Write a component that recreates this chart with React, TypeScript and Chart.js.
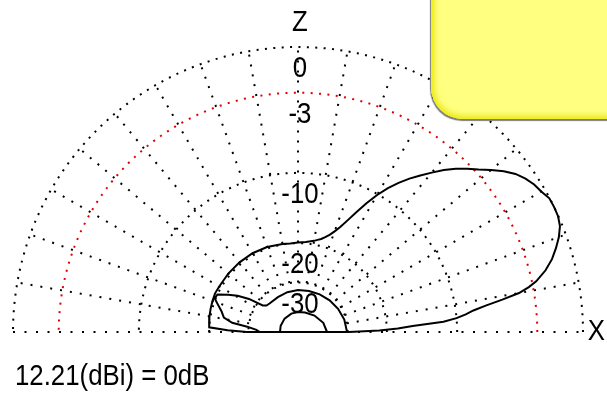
import { useEffect, useRef } from 'react';
import { Chart, registerables } from 'chart.js';

Chart.register(...registerables);

// Total-field elevation pattern: degrees above the +X horizon and gain relative to the peak (dB).
const ELEVATION_DEG = [
  0, 1, 2, 3, 4, 5, 6, 7, 8, 9, 10, 11, 12, 14, 16, 18, 20, 22, 24, 26, 28, 30,
  32, 34, 36, 38, 40, 42, 44, 46, 48, 50, 52, 54, 56, 58, 60, 62, 64, 66, 68,
  70, 72, 74, 76, 78, 80, 85, 90, 95, 100, 110, 120, 130, 140, 150, 155, 160,
  165, 170, 174, 177, 178.5, 180,
];
const GAIN_DB = [
  -29.5, -21.5, -18.0, -15.6, -11.5, -10.0, -9.0, -8.2, -7.0, -5.5, -4.1, -3.3,
  -2.7, -1.9, -1.3, -0.85, -0.45, -0.15, -0.02, 0, -0.02, -0.25, -0.4, -0.65,
  -1.0, -1.5, -2.1, -2.75, -3.3, -3.9, -4.6, -5.4, -6.2, -7.0, -7.9, -8.9,
  -10.1, -11.5, -13.0, -14.5, -15.8, -16.8, -17.6, -18.2, -18.7, -19.0, -19.3,
  -19.7, -19.9, -20.0, -19.9, -19.7, -19.6, -19.6, -19.6, -19.6, -19.5, -19.6,
  -19.7, -19.8, -19.9, -20.0, -24.0, -29.5,
];

// Weaker polarisation components drawn near the origin.
const TRACE_B_DEG = [
  0, 15, 30, 45, 60, 75, 90, 105, 120, 135, 140, 143, 146, 149, 152, 155, 158,
  161, 165, 169, 172, 174, 177, 180,
];
const TRACE_B_DB = [
  -30.2, -30.6, -31.2, -31.8, -32.3, -32.7, -32.9, -33.2, -33.6, -33.6, -33.2,
  -32.0, -27.0, -24.0, -22.0, -20.0, -19.8, -20.8, -22.0, -22.8, -25.0, -29.5,
  -33.0, -34.5,
];
const TRACE_C_DEG = [0, 20, 45, 70, 90, 110, 135, 160, 180];
const TRACE_C_DB = [-39.2, -40.5, -43.0, -45.0, -45.6, -46.0, -46.5, -47.0, -47.4];

const RING_DB = [0, -3, -10, -20, -30];
const RING_LABELS = ['0', '-3', '-10', '-20', '-30'];
const RING_COLORS = ['#000000', '#e00000', '#000000', '#000000', '#000000'];
const SPOKE_DEG = [10, 20, 30, 40, 50, 60, 70, 80, 90, 100, 110, 120, 130, 140, 150, 160, 170];
const PEAK_GAIN_DBI = 12.21;
const VERTICAL_AXIS = 'Z';
const HORIZONTAL_AXIS = 'X';

// ARRL log scale: radius = 0.89^(-dB/2).
const toRadius = (db: number) => Math.pow(0.89, -db / 2);
const toXY = (deg: number, r: number) => {
  const a = (deg * Math.PI) / 180;
  return { x: r * Math.cos(a), y: r * Math.sin(a) };
};

const W = 607;
const H = 398;
const CX = 298;
const CY = 332;
const R_PX = 285;

const FONT = '30px "Liberation Sans", Arial, sans-serif';

function drawText(
  ctx: CanvasRenderingContext2D,
  text: string,
  x: number,
  y: number,
  align: CanvasTextAlign,
  baseline: CanvasTextBaseline,
) {
  ctx.save();
  ctx.font = FONT;
  ctx.fillStyle = '#000';
  ctx.textAlign = align;
  ctx.textBaseline = baseline;
  ctx.translate(x, y);
  ctx.scale(0.86, 1);
  ctx.fillText(text, 0, 0);
  ctx.restore();
}

const labelPlugin = {
  id: 'polarLabels',
  afterDatasetsDraw(chart: Chart) {
    const { ctx } = chart;
    const xs = chart.scales.x;
    const ys = chart.scales.y;
    const ox = xs.getPixelForValue(0);
    const oy = ys.getPixelForValue(0);
    RING_DB.forEach((db, i) => {
      const top = ys.getPixelForValue(toRadius(db));
      drawText(ctx, RING_LABELS[i], ox + 2, top + 22, 'center', 'middle');
    });
    drawText(ctx, VERTICAL_AXIS, ox + 2, ys.getPixelForValue(toRadius(0)) - 24, 'center', 'middle');
    drawText(ctx, HORIZONTAL_AXIS, xs.getPixelForValue(1.047), oy, 'center', 'middle');
    drawText(ctx, `${PEAK_GAIN_DBI.toFixed(2)}(dBi) = 0dB`, 15, oy + 53, 'left', 'alphabetic');
  },
};

export default function App() {
  const canvasRef = useRef<HTMLCanvasElement | null>(null);

  useEffect(() => {
    document.body.style.margin = '0';
    const canvas = canvasRef.current;
    if (!canvas) return;

    const trace = (degs: number[], dbs: number[]) => degs.map((deg, i) => toXY(deg, toRadius(dbs[i])));
    const total = trace(ELEVATION_DEG, GAIN_DB);
    total.push(total[0]); // close the outline along the horizon

    const semicircle = (r: number) => {
      const pts = [];
      for (let d = 0; d <= 180; d += 1) pts.push(toXY(d, r));
      return pts;
    };

    const rings = RING_DB.map((db, i) => ({
      data: semicircle(toRadius(db)),
      borderColor: RING_COLORS[i],
      borderWidth: 2,
      borderDash: [2, 6.4],
      order: 3,
    }));

    const innerR = toRadius(-30);
    const spokes = SPOKE_DEG.map((deg) => ({
      data: [toXY(deg, innerR), toXY(deg, 1)],
      borderColor: '#000',
      borderWidth: 2,
      borderDash: [2, 8],
      order: 4,
    }));

    const baseline = {
      data: [toXY(180, 1), toXY(0, 1.01)],
      borderColor: '#000',
      borderWidth: 2,
      borderDash: [2, 9.5],
      order: 5,
    };

    const solid = (data: { x: number; y: number }[]) => ({
      data,
      borderColor: '#000',
      borderWidth: 2,
      order: 1,
    });

    const chart = new Chart(canvas, {
      type: 'scatter',
      data: {
        datasets: [
          solid(total),
          solid(trace(TRACE_B_DEG, TRACE_B_DB)),
          solid(trace(TRACE_C_DEG, TRACE_C_DB)),
          ...rings,
          ...spokes,
          baseline,
        ].map((d) => ({
          showLine: true,
          pointRadius: 0,
          pointHoverRadius: 0,
          tension: 0,
          fill: false,
          ...d,
        })),
      },
      options: {
        responsive: false,
        animation: false,
        devicePixelRatio: 1,
        layout: { padding: 0 },
        plugins: { legend: { display: false }, tooltip: { enabled: false } },
        events: [],
        scales: {
          x: { type: 'linear', display: false, min: -CX / R_PX, max: (W - CX) / R_PX },
          y: { type: 'linear', display: false, min: -(H - CY) / R_PX, max: CY / R_PX },
        },
      },
      plugins: [labelPlugin],
    });

    return () => chart.destroy();
  }, []);

  return (
    <div style={{ position: 'fixed', left: 0, top: 0, width: W, height: H, background: '#fff', overflow: 'hidden' }}>
      <canvas ref={canvasRef} width={W} height={H} style={{ display: 'block' }} />
      <div
        style={{
          position: 'absolute',
          left: 431,
          top: -40,
          width: 230,
          height: 159,
          borderRadius: 32,
          background: '#ffff80',
          boxShadow:
            'inset 0 0 0 2px #f0f020, inset 0 0 5px 4px #ecec30, -1px 2px 1px 0px rgba(70,70,70,0.7)',
        }}
      />
    </div>
  );
}
